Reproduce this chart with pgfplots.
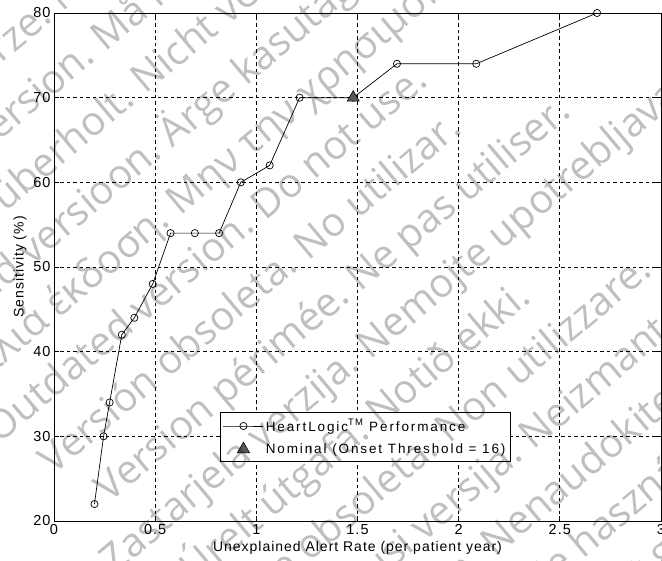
\documentclass[border=0pt]{standalone}
\usepackage{fontspec}
\setmainfont{Liberation Sans}
\newfontfamily\lsA[LetterSpace=7]{Liberation Sans}
\newfontfamily\lsB[LetterSpace=14]{Liberation Sans}
\newfontfamily\wmfont{Open Sans}
\usepackage{pgfplots}
\pgfplotsset{compat=1.18}

% watermark line: gap x (px), line offset c (px), first sentence, second sentence
\newcommand{\wm}[4]{%
  \path ({#1-54+7},{521-#2+0.839*#1-8.4})
    node[rotate=40,anchor=base east]{#3}
    node[rotate=40,anchor=base west]{\hspace*{0.28em}#4};
}

\begin{document}
\begin{tikzpicture}
\useasboundingbox (-54pt,-40pt) rectangle (608pt,521pt);
\begin{axis}[
    at={(0pt,0pt)}, anchor=south west,
    scale only axis, width=607pt, height=508pt,
    xmin=0, xmax=3, ymin=20, ymax=80,
    xtick={0,0.5,1,1.5,2,2.5,3},
    ytick={20,30,40,50,60,70,80},
    grid=major,
    grid style={black, line width=0.7pt, dash pattern=on 3.5pt off 3pt},
    axis line style={line width=0.8pt},
    tick align=inside, major tick length=5pt,
    tick style={black, line width=0.7pt},
    /pgf/number format/assume math mode=true,
    ticklabel style={font=\lsA\fontsize{14.5}{16}\selectfont},
    label style={font=\lsA\fontsize{14}{16}\selectfont},
    xlabel={Unexplained Alert Rate (per patient year)},
    ylabel={Sensitivity (\%)},
    legend style={at={(0.273,0.2146)}, anchor=north west, draw=black,
        line width=0.8pt, fill=white, font=\lsB\fontsize{13.5}{15}\selectfont,
        inner xsep=3pt, inner ysep=5pt, row sep=7pt},
    legend cell align=left,
    legend image code/.code={\draw[mark repeat=2,mark phase=2]
        plot coordinates {(0pt,0pt)(20pt,0pt)(40pt,0pt)};},
]
\addplot[black, line width=0.7pt, mark=o, mark size=3.6pt,
    mark options={solid, line width=0.7pt}] coordinates {
    (0.20,22)(0.245,30)(0.275,34)(0.335,42)(0.397,44)(0.488,48)
    (0.576,54)(0.696,54)(0.816,54)(0.923,60)(1.066,62)(1.214,70)
    (1.479,70)(1.695,74)(2.087,74)(2.684,80)};
\addlegendentry{HeartLogic\textsuperscript{TM} Performance}
\addplot[only marks, mark=triangle*, mark size=7pt,
    mark options={fill=black!65, draw=black, line width=0.6pt}]
    coordinates {(1.479,70)};
\addlegendentry{Nominal (Onset Threshold = 16)}
\end{axis}

\begin{scope}[x=1pt,y=1pt,
    every node/.style={font=\wmfont\fontsize{40}{48}\selectfont,
        text=black, text opacity=0.25, inner sep=0pt}]
\clip (-54,-40) rectangle (608,521);
\wm{47}{51}{Zastaralá verze.}{Nepoužívat.}
\wm{90}{127}{Forældet version.}{Må ikke anvendes.}
\wm{130}{203}{Version überholt.}{Nicht verwenden.}
\wm{157}{279}{Aegunud versioon.}{Ärge kasutage.}
\wm{165}{354}{Παλιά έκδοση.}{Μην την χρησιμοποιείτε.}
\wm{250}{430}{Outdated version.}{Do not use.}
\wm{293}{506}{Versión obsoleta.}{No utilizar.}
\wm{345}{581}{Version périmée.}{Ne pas utiliser.}
\wm{355}{657}{Zastarjela verzija.}{Nemojte upotrebljavati.}
\wm{365}{733}{Úrelt útgáfa.}{Notið ekki.}
\wm{434}{808}{Versione obsoleta.}{Non utilizzare.}
\wm{518}{884}{Novecojusi versija.}{Neizmantot.}
\wm{480}{960}{Pasenusi versija.}{Nenaudokite.}
\wm{520}{1035}{Elavult verzió.}{Ne használja!}
\wm{580}{1111}{Verouderde versie.}{Niet gebruiken.}
\end{scope}
\end{tikzpicture}
\end{document}
